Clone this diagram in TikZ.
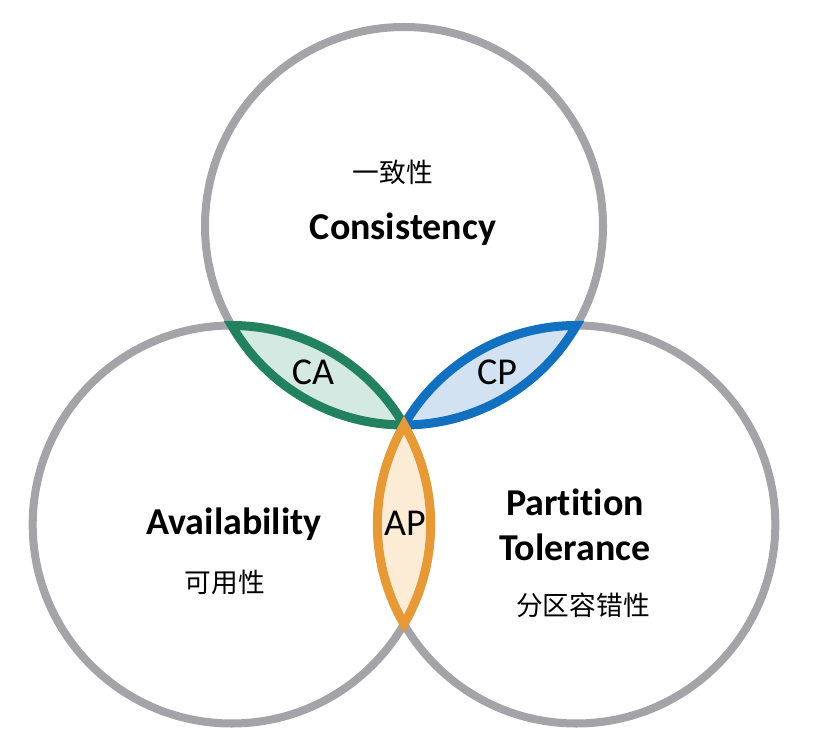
\documentclass[tikz,border=0pt]{standalone}
\usepackage{fontspec}
\setmainfont{Carlito}[Ligatures=NoCommon]
\newfontfamily\cjk{Noto Sans CJK SC}
\usepackage{xcolor}
\definecolor{ringgray}{RGB}{163,163,168}
\definecolor{cagreen}{RGB}{34,130,96}
\definecolor{cafill}{RGB}{212,233,225}
\definecolor{cpblue}{RGB}{18,112,192}
\definecolor{cpfill}{RGB}{210,226,242}
\definecolor{aporange}{RGB}{230,153,52}
\definecolor{apfill}{RGB}{252,235,213}

\begin{document}
\begin{tikzpicture}[
    x=0.025cm, y=0.025cm,
    ring/.style={draw=ringgray, line width=5.7pt},
    lens/.style={line width=6.4pt},
    title/.style={font=\fontsize{27}{32}\selectfont\bfseries, align=center},
    pairlabel/.style={font=\fontsize{27}{32}\selectfont},
    zh/.style={font=\fontsize{19}{22}\selectfont\cjk}
]
    \useasboundingbox (0,0) rectangle (813,741);
    \coordinate (p) at (404,316);
    \coordinate (ct) at (404,515);
    \coordinate (ca) at (231.7,216.5);
    \coordinate (cp) at (576.3,216.5);
    % the three sets
    \draw[ring] (ct) circle[radius=199];
    \draw[ring] (ca) circle[radius=199];
    \draw[ring] (cp) circle[radius=199];
    % pairwise overlaps
    \draw[lens, draw=cagreen, fill=cafill] (p)
        arc[start angle=270, end angle=210, radius=199]
        arc[start angle=90, end angle=30, radius=199] -- cycle;
    \draw[lens, draw=cpblue, fill=cpfill] (p)
        arc[start angle=270, end angle=330, radius=199]
        arc[start angle=90, end angle=150, radius=199] -- cycle;
    \draw[lens, draw=aporange, fill=apfill] (p)
        arc[start angle=30, end angle=-30, radius=199]
        arc[start angle=210, end angle=150, radius=199] -- cycle;
    \node[zh] (czh) at (393,569) {一致性};
    \node[title] (c) at (403,512) {Consistency};
    \node[title] (a) at (234,217) {Availability};
    \node[zh] (azh) at (225,159) {可用性};
    \node[title] (pt) at (575,216) {Partition\\Tolerance};
    \node[zh] (pzh) at (583,136) {分区容错性};
    \node[pairlabel] (lca) at (313,369) {CA};
    \node[pairlabel] (lcp) at (497,369) {CP};
    \node[pairlabel] (lap) at (405,218) {AP};
\end{tikzpicture}
\end{document}
